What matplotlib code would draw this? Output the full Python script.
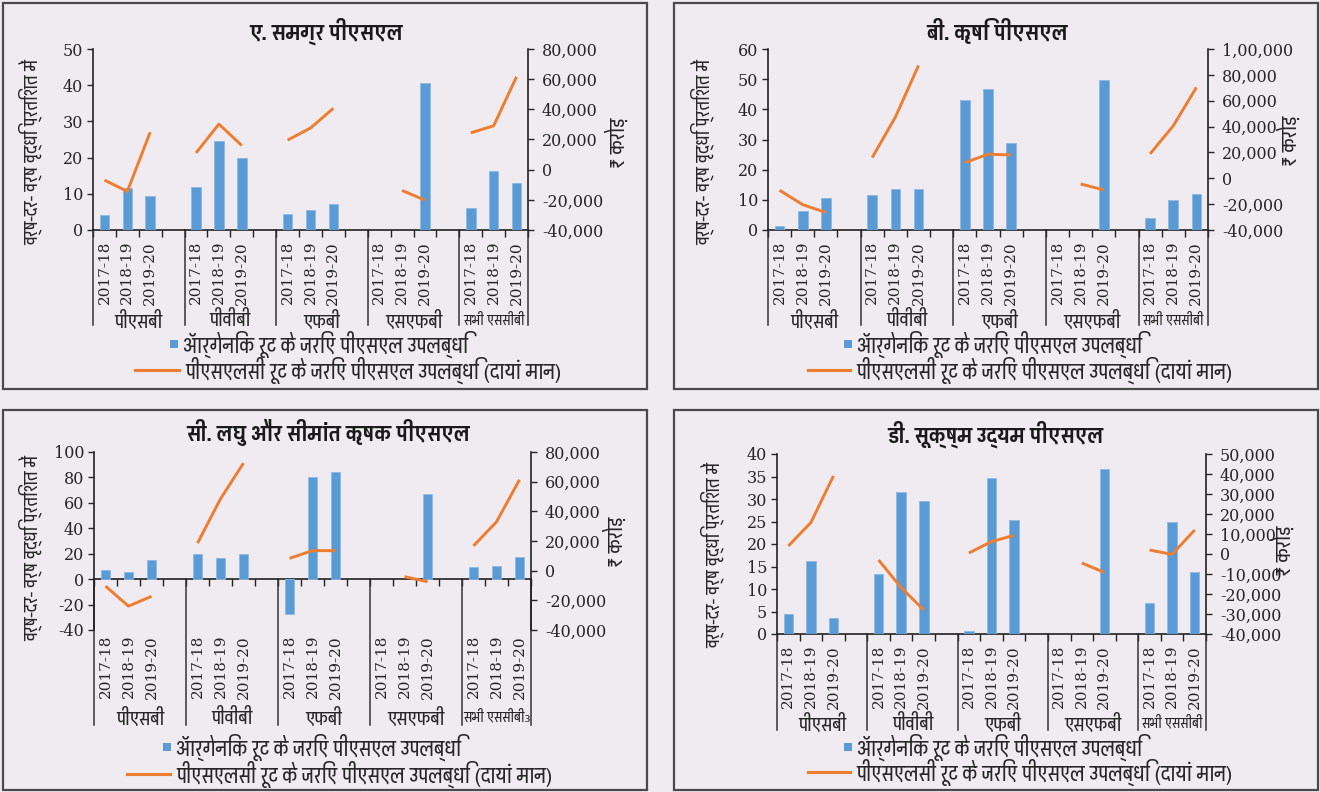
import numpy as np
import matplotlib
matplotlib.use("Agg")
import matplotlib.pyplot as plt
from matplotlib.lines import Line2D
from matplotlib.patches import Rectangle
from matplotlib.ticker import FuncFormatter, FixedLocator
import matplotlib.transforms as mtransforms

nan = np.nan

# ---------------------------------------------------------------- data
groups = ["पीएसबी", "पीवीबी", "एफबी", "एसएफबी", "सभी एससीबी"]
years = ["2017-18", "2018-19", "2019-20"]

titles = ["ए. समग्र पीएसएल", "बी. कृषि पीएसएल",
          "सी. लघु और सीमांत कृषक पीएसएल", "डी. सूक्ष्म उद्यम पीएसएल"]

legend_bar = "ऑर्गेनिक रूट के जरिए पीएसएल उपलब्धि"
legend_line = "पीएसएलसी रूट के जरिए पीएसएल उपलब्धि (दायां मान)"
ylabel_left = "वर्ष-दर- वर्ष वृद्धि प्रतिशत में"
ylabel_right = "₹ करोड़"

# Year-on-year growth of PSL achieved through the organic route (per cent)
organic_total = [4.1, 11.5, 9.5, 12.0, 24.6, 20.0, 4.5, 5.4, 7.2,
                 nan, nan, 40.6, 6.1, 16.3, 12.9]
organic_agri = [1.4, 6.4, 10.5, 11.6, 13.5, 13.5, 43.2, 46.6, 28.9,
                nan, nan, 49.8, 4.0, 9.9, 12.0]
organic_smf = [7.3, 5.8, 15.0, 19.9, 16.8, 19.9, -27.8, 80.1, 84.3,
               nan, nan, 66.7, 9.2, 10.5, 17.3]
organic_micro = [4.4, 16.3, 3.6, 13.3, 31.5, 29.5, 0.7, 34.6, 25.3,
                 nan, nan, 36.6, 7.0, 25.0, 13.7]

# PSL achieved through the PSLC route (₹ crore, right axis)
pslc_total = [-6900, -14400, 24900, 11100, 30200, 16000, 19600, 27600, 40700,
              nan, -13800, -20200, 24400, 29100, 61600]
pslc_agri = [-9300, -20400, -26400, 16000, 47300, 87300, 12100, 18600, 18100,
             nan, -4400, -9000, 18900, 40600, 70300]
pslc_smf = [-10400, -23900, -17300, 18500, 48400, 72500, 8300, 13500, 13500,
            nan, -4100, -7400, 16700, 32900, 61300]
pslc_micro = [4000, 15700, 39000, -3000, -16800, -28000, 500, 6200, 9300,
              nan, -4500, -9200, 2000, -200, 12000]

left_ticks = [np.arange(0, 51, 10), np.arange(0, 61, 10),
              np.arange(-40, 101, 20), np.arange(0, 41, 5)]
right_ticks = [np.arange(-40000, 80001, 20000), np.arange(-40000, 100001, 20000),
               np.arange(-40000, 80001, 20000), np.arange(-40000, 50001, 10000)]

organic = [organic_total, organic_agri, organic_smf, organic_micro]
pslc = [pslc_total, pslc_agri, pslc_smf, pslc_micro]

# ---------------------------------------------------------------- style
text_family = ["Pragati Narrow", "Noto Sans Devanagari", "DejaVu Sans"]
num_family = "DejaVu Serif"
plt.rcParams["font.family"] = text_family

BAR_C = "#5B9BD5"
LINE_C = "#ED7D31"
BG = "#EFEBF0"
TXT = "#262626"

W, H = 1320, 792
fig = plt.figure(figsize=(W / 100, H / 100), dpi=100, facecolor=BG)

def fx(px):
    return px / W

def fy(py):
    return 1 - py / H

def indian(v, pos=None):
    """Format with Indian digit grouping (1,00,000)."""
    v = int(round(v))
    s = "-" if v < 0 else ""
    t = str(abs(v))
    if len(t) > 3:
        head, tail = t[:-3], t[-3:]
        parts = []
        while len(head) > 2:
            parts.insert(0, head[-2:])
            head = head[:-2]
        if head:
            parts.insert(0, head)
        t = ",".join(parts) + "," + tail
    return s + t

# panel geometry (pixels)
layout = [
    dict(box=(3, 3, 647, 389), ax=(93, 49, 528, 230), title=(326, 31),
         ylab=(30, 152), rlab=(617, 142), year_top=241, sep_bot=325,
         group_y=320, leg=(344, 370), sq_x=174, line_x=(135, 179)),
    dict(box=(674, 3, 1318, 389), ax=(768, 49, 1208, 230), title=(997, 31),
         ylab=(702, 152), rlab=(1289, 140), year_top=241, sep_bot=325,
         group_y=320, leg=(344, 370), sq_x=848, line_x=(808, 850)),
    dict(box=(3, 410, 647, 790), ax=(94, 452, 531, 630), title=(328, 433),
         ylab=(30, 548), rlab=(615, 541), year_top=635, sep_bot=725,
         group_y=717, leg=(747, 774), sq_x=167, line_x=(127, 170)),
    dict(box=(674, 410, 1318, 790), ax=(777, 454, 1206, 634), title=(995, 434),
         ylab=(712, 555), rlab=(1283, 550), year_top=645, sep_bot=730,
         group_y=723, leg=(747, 772), sq_x=848, line_x=(808, 850)),
]

n_slots = 4 * (len(groups) - 1) + len(years)
xpos = [4 * g + j + 0.5 for g in range(len(groups)) for j in range(len(years))]

for k, L in enumerate(layout):
    x0, y0, x1, y1 = L["box"]
    fig.patches.append(Rectangle((fx(x0), fy(y1)), fx(x1 - x0), fy(y0) - fy(y1),
                                 transform=fig.transFigure, facecolor=BG,
                                 edgecolor="#4a4a4a", linewidth=1.6, zorder=-5))

    al, at, ar, ab = L["ax"]
    ax = fig.add_axes([fx(al), fy(ab), fx(ar - al), fy(at) - fy(ab)])
    ax.set_facecolor("none")
    lt = left_ticks[k]
    rt = right_ticks[k]
    ax.set_ylim(lt[0], lt[-1])
    ax.set_xlim(0, n_slots)

    ax.bar(xpos, organic[k], width=0.42, color=BAR_C, edgecolor="#8db9e3",
           linewidth=0.6, zorder=3)

    ax2 = ax.twinx()
    ax2.set_ylim(rt[0], rt[-1])
    vals = pslc[k]
    for g in range(len(groups)):
        xs = xpos[3 * g:3 * g + 3]
        ys = vals[3 * g:3 * g + 3]
        ax2.plot(xs, ys, color=LINE_C, linewidth=2.1, solid_capstyle="butt",
                 zorder=4)

    for a in (ax, ax2):
        a.spines["top"].set_visible(False)
    ax.spines["right"].set_visible(False)
    ax2.spines["left"].set_visible(False)
    ax2.spines["bottom"].set_visible(False)
    ax.spines["bottom"].set_position(("data", 0))
    for sp in ("left", "bottom"):
        ax.spines[sp].set_color("#222222")
        ax.spines[sp].set_linewidth(1.2)
    ax2.spines["right"].set_color("#222222")
    ax2.spines["right"].set_linewidth(1.2)

    ax.yaxis.set_major_locator(FixedLocator(lt))
    ax.yaxis.set_major_formatter(FuncFormatter(lambda v, p: f"{v:g}"))
    ax.tick_params(axis="y", direction="out", length=4, width=1, pad=3,
                   labelsize=11.5, colors=TXT)
    ax2.yaxis.set_major_locator(FixedLocator(rt))
    ax2.yaxis.set_major_formatter(FuncFormatter(indian))
    ax2.tick_params(axis="y", direction="out", length=4, width=1, pad=6,
                    labelsize=11.5, colors=TXT)
    for lab in ax.get_yticklabels() + ax2.get_yticklabels():
        lab.set_fontfamily(num_family)

    ax.set_xticks(np.arange(0, n_slots + 1))
    ax.set_xticklabels([])
    ax.tick_params(axis="x", direction="out", length=5, width=1, color="#222222")

    # labels under the category axis, positioned in data-x / figure-y
    tr = mtransforms.blended_transform_factory(ax.transData, fig.transFigure)
    zero_py = ab - (0 - lt[0]) / (lt[-1] - lt[0]) * (ab - at)
    for xp, yr in zip(xpos, years * len(groups)):
        ax.text(xp, fy(L["year_top"]), yr, transform=tr, rotation=90,
                ha="center", va="top", fontsize=11, family=num_family,
                color=TXT, clip_on=False)
    for b in [0, 4, 8, 12, 16, n_slots]:
        ax.add_line(Line2D([b, b], [fy(zero_py), fy(L["sep_bot"])],
                           transform=tr, color="#333333", linewidth=1.1,
                           clip_on=False))
    for g, name in enumerate(groups):
        width = 4 if g < len(groups) - 1 else 3
        last = g == len(groups) - 1
        label = name + ("₃" if (k == 2 and last) else "")
        ax.text(4 * g + width / 2, fy(L["group_y"]), label, transform=tr,
                ha="center", va="center", fontsize=11 if last else 15,
                color=TXT, clip_on=False)

    # title and axis titles
    fig.text(fx(L["title"][0]), fy(L["title"][1]), titles[k], ha="center",
             va="center", fontsize=17, fontweight="bold", color="#1a1a1a")
    fig.text(fx(L["ylab"][0]), fy(L["ylab"][1]), ylabel_left, rotation=90,
             ha="center", va="center", fontsize=14.5, color=TXT)
    fig.text(fx(L["rlab"][0]), fy(L["rlab"][1]), ylabel_right, rotation=90,
             ha="center", va="center", fontsize=16, color=TXT)

    # legend
    l1, l2 = L["leg"]
    sq = 8
    fig.patches.append(Rectangle((fx(L["sq_x"] - sq / 2), fy(l1 + sq / 2)),
                                 fx(sq), fy(l1 - sq / 2) - fy(l1 + sq / 2),
                                 transform=fig.transFigure, facecolor=BAR_C,
                                 edgecolor="none"))
    fig.text(fx(L["sq_x"] + 9), fy(l1), legend_bar, ha="left", va="center",
             fontsize=16.5, color=TXT)
    fig.lines.append(Line2D([fx(L["line_x"][0]), fx(L["line_x"][1])],
                            [fy(l2), fy(l2)], transform=fig.transFigure,
                            color=LINE_C, linewidth=2.2))
    fig.text(fx(L["line_x"][1] + 6), fy(l2), legend_line, ha="left",
             va="center", fontsize=16.5, color=TXT)

fig.savefig("out.png", dpi=100, facecolor=BG)
